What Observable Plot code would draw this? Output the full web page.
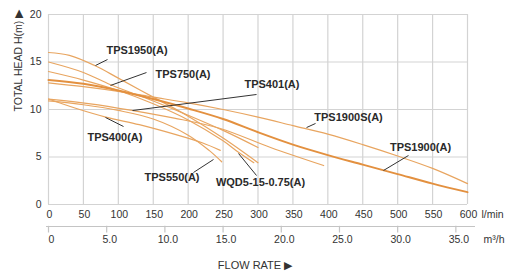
<!DOCTYPE html>
<html>
<head>
<meta charset="utf-8">
<script src="https://cdn.jsdelivr.net/npm/d3@7"></script>
<script src="https://cdn.jsdelivr.net/npm/@observablehq/plot@0.6"></script>
<style>
  html, body { margin: 0; padding: 0; background: #fff; }
  #chart { width: 508px; height: 275px; overflow: hidden; }
</style>
</head>
<body>
<div id="chart"></div>
<script>
// ---- Pump curves: flow (l/min) and total head (m) ----
const q_TPS1950  = [0, 30, 67, 100, 150, 200, 250, 300];
const h_TPS1950  = [16.0, 15.7, 14.6, 13.3, 11.3, 9.3, 7.0, 4.4];
const q_TPS750   = [0, 50, 89, 150, 200, 250, 300];
const h_TPS750   = [15.0, 13.9, 12.6, 10.9, 9.4, 7.8, 6.0];
const q_WQD5     = [0, 50, 100, 150, 200, 250, 272, 294];
const h_WQD5     = [14.0, 13.1, 12.0, 10.6, 8.9, 6.7, 5.5, 4.4];
const q_TPS1900  = [0, 50, 100, 150, 200, 250, 300, 350, 400, 450, 500, 550, 600];
const h_TPS1900  = [13.1, 12.7, 12.0, 11.1, 10.1, 9.0, 7.6, 6.3, 5.2, 4.2, 3.2, 2.2, 1.3];
const q_TPS1900S = [0, 50, 100, 150, 200, 250, 300, 350, 400, 450, 500, 550, 600];
const h_TPS1900S = [12.8, 12.4, 11.9, 11.3, 10.7, 10.0, 9.2, 8.3, 7.4, 6.3, 5.1, 3.8, 2.2];
const q_TPS401   = [0, 60, 120, 180, 246, 318, 394];
const h_TPS401   = [11.1, 10.6, 9.9, 9.1, 8.0, 6.0, 4.1];
const q_TPS400   = [0, 40, 82, 130, 180, 220, 246];
const h_TPS400   = [11.1, 10.1, 9.2, 8.4, 7.4, 6.5, 5.7];
const q_TPS550   = [0, 50, 100, 150, 200, 230, 248];
const h_TPS550   = [10.9, 10.5, 9.9, 9.0, 7.3, 5.7, 4.5];

const curveNames = ["TPS1950(A)", "TPS750(A)", "WQD5-15-0.75(A)", "TPS1900(A)", "TPS1900S(A)", "TPS401(A)", "TPS400(A)", "TPS550(A)"];
const curveQ = [q_TPS1950, q_TPS750, q_WQD5, q_TPS1900, q_TPS1900S, q_TPS401, q_TPS400, q_TPS550];
const curveH = [h_TPS1950, h_TPS750, h_WQD5, h_TPS1900, h_TPS1900S, h_TPS401, h_TPS400, h_TPS550];

// ---- Axis ticks ----
const flowTicks = [0, 50, 100, 150, 200, 250, 300, 350, 400, 450, 500, 550, 600];
const headTicks = [0, 5, 10, 15, 20];
const m3Ticks   = [0, 5, 10, 15, 20, 25, 30, 35];
const m3Labels  = ["0", "5.0", "10.0", "15.0", "20.0", "25.0", "30.0", "35.0"];

// ---- Annotations (data units) ----
const labelText = ["TPS1950(A)", "TPS750(A)", "TPS401(A)", "TPS1900S(A)", "TPS400(A)", "TPS550(A)", "WQD5-15-0.75(A)", "TPS1900(A)"];
const labelQ    = [126.7, 192.6, 320, 429.6, 95.2, 176.9, 303.6, 532.7];
const labelH    = [16.2, 13.7, 12.6, 9.16, 7.05, 2.84, 2.3, 6.0];
const leadQ1 = [67.3, 88.8, 120.3, 369.5, 81.6, 207.6, 272.1, 479.7];
const leadH1 = [14.63, 12.53, 9.89, 8.1, 9.16, 3.37, 5.37, 3.58];
const leadQ2 = [84.5, 140.3, 297.9, 382.4, 107.4, 236.3, 297.9, 515.5];
const leadH2 = [15.26, 13.89, 11.58, 8.53, 8.21, 4.74, 3.05, 5.16];

const rows = [];
curveNames.forEach((name, i) => curveQ[i].forEach((q, j) => rows.push({model: name, q, h: curveH[i][j]})));
const thin = rows.filter(d => d.model !== "TPS1900(A)");
const thick = rows.filter(d => d.model === "TPS1900(A)");
const labels = labelText.map((t, i) => ({t, q: labelQ[i], h: labelH[i]}));
const leaders = labelText.map((t, i) => ({q1: leadQ1[i], h1: leadH1[i], q2: leadQ2[i], h2: leadH2[i]}));
const m3 = m3Ticks.map((v, i) => ({q: v * 1000 / 60, t: m3Labels[i]}));

const grid = "#d3d3d3";
const chart = Plot.plot({
  width: 508,
  height: 275,
  marginLeft: 48,
  marginRight: 41,
  marginTop: 14,
  marginBottom: 71,
  style: {fontFamily: "'Liberation Sans', Arial, sans-serif", fontSize: "10.5px", color: "#333", background: "#fff", overflow: "visible"},
  x: {domain: [0, 600], axis: null},
  y: {domain: [0, 20], axis: null},
  marks: [
    Plot.gridX(flowTicks, {stroke: grid, strokeOpacity: 1, strokeWidth: 1.2}),
    Plot.gridY(headTicks, {stroke: grid, strokeOpacity: 1, strokeWidth: 1.2}),
    Plot.text(flowTicks, {x: d => d, frameAnchor: "bottom", dy: 13, dx: 1, text: d => String(d), fill: "#333"}),
    Plot.text(["l/min"], {frameAnchor: "bottom-right", dx: 14, dy: 13, textAnchor: "start", fill: "#333"}),
    Plot.text(headTicks, {y: d => d, frameAnchor: "left", dx: -7, textAnchor: "end", text: d => String(d), fill: "#333"}),
    Plot.text(["TOTAL HEAD H(m) \u25B6"], {frameAnchor: "left", dx: -30, dy: 2, rotate: -90, fill: "#333", fontSize: 10.5}),
    // secondary axis (m³/h)
    Plot.ruleY([0], {dy: 22, insetLeft: -2, insetRight: -8, stroke: "#c4c4c4", strokeWidth: 1.2}),
    Plot.ruleX(m3, {x: "q", y1: -2.3, y2: -3.0, stroke: "#c4c4c4", strokeWidth: 1.2}),
    Plot.text(m3, {x: "q", text: "t", frameAnchor: "bottom", dy: 38, dx: 3, fill: "#333"}),
    Plot.text(["m\u00B3/h"], {frameAnchor: "bottom-right", dx: 16, dy: 38, textAnchor: "start", fill: "#333"}),
    Plot.text(["FLOW RATE \u25B6"], {frameAnchor: "bottom", dy: 64, dx: -3, fill: "#333", fontSize: 11}),
    // curves
    Plot.line(thin, {x: "q", y: "h", z: "model", curve: "catmull-rom", stroke: "#e8a560", strokeWidth: 1.2}),
    Plot.line(thick, {x: "q", y: "h", curve: "catmull-rom", stroke: "#e3903f", strokeWidth: 2}),
    // leaders + labels
    Plot.link(leaders, {x1: "q1", y1: "h1", x2: "q2", y2: "h2", stroke: "#333", strokeWidth: 1}),
    Plot.text(labels, {x: "q", y: "h", text: "t", fontWeight: "bold", fontSize: 11, fill: "#2a2a2a"})
  ]
});
document.getElementById("chart").append(chart);
</script>
</body>
</html>
